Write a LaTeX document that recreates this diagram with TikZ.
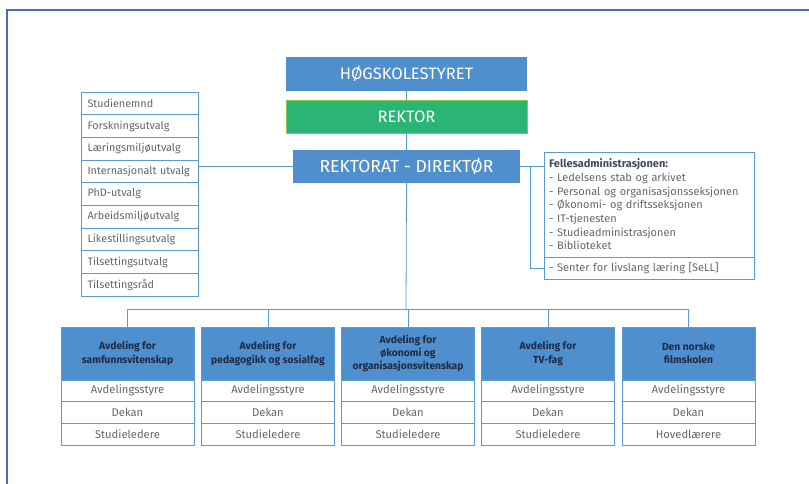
\documentclass[tikz,border=0pt]{standalone}
\usepackage{fontspec}
\setmainfont{Fira Sans}
\definecolor{boxblue}{HTML}{4F8FCD}
\definecolor{lineblue}{HTML}{5B9BD5}
\definecolor{framecol}{HTML}{4A6CC0}
\definecolor{rgreen}{HTML}{2BB574}
\definecolor{rgreenb}{HTML}{8CC84B}
\definecolor{txtgrey}{HTML}{666666}
\definecolor{navy}{HTML}{1E2B44}
\tikzset{
  topbox/.style={fill=boxblue, draw=none, text=white, minimum width=241pt, minimum height=34pt, inner sep=0pt, font=\fontsize{16.5}{19}\selectfont},
  listrow/.style={draw=lineblue, line width=0.8pt, fill=white, minimum width=117pt, minimum height=22.67pt, inner sep=0pt, text width=104pt, align=left, text=txtgrey, font=\fontsize{10.8}{12}\selectfont},
  dhead/.style={fill=boxblue, draw=lineblue, line width=0.8pt, minimum width=133pt, minimum height=53pt, inner sep=0pt, align=center, text=navy, font=\bfseries\fontsize{10.3}{13.2}\selectfont},
  drow/.style={draw=lineblue, line width=0.8pt, fill=white, minimum width=133pt, minimum height=#1, inner sep=0pt, text=txtgrey, font=\fontsize{11.2}{12}\selectfont},
  conn/.style={draw=lineblue, line width=0.8pt},
}
\begin{document}
\begin{tikzpicture}[x=1pt,y=-1pt]
\useasboundingbox (0,0) rectangle (809,484);
\draw[framecol, line width=1.5pt] (7,484) -- (7,10) -- (809,10);

% top chain
\node[topbox] (hs) at (406.5,74) {HØGSKOLESTYRET};
\node[topbox, fill=rgreen, draw=rgreenb, line width=0.8pt, minimum height=33pt] (rk) at (406.5,116.5) {REKTOR};
\node[topbox, minimum width=227pt, minimum height=33pt, font=\fontsize{17.5}{20}\selectfont] (rd) at (406.5,166.5) {REKTORAT - DIREKTØR};
\draw[conn] (hs.south) -- (rk.north);
\draw[conn] (rk.south) -- (rd.north);

% left list
\foreach \t [count=\i] in {Studienemnd,Forskningsutvalg,Læringsmiljøutvalg,Internasjonalt utvalg,PhD-utvalg,Arbeidsmiljøutvalg,Likestillingsutvalg,Tilsettingsutvalg,Tilsettingsråd}{
  \node[listrow] (l\i) at (139.5,{92+22.67*(\i-0.5)}) {\t};
}
\draw[conn] (l4.east |- rd.west) -- (rd.west);

% right box
\node[draw=lineblue, line width=0.8pt, minimum width=210pt, minimum height=105pt, inner sep=0pt, text width=200pt, align=left, text=txtgrey, font=\fontsize{11}{13.7}\selectfont] (fa) at (649,204.5)
{{\bfseries\color{navy!85}Fellesadministrasjonen:}\\
- Ledelsens stab og arkivet\\
- Personal og organisasjonsseksjonen\\
- Økonomi- og driftsseksjonen\\
- IT-tjenesten\\
- Studieadministrasjonen\\
- Biblioteket};
\node[draw=lineblue, line width=0.8pt, minimum width=210pt, minimum height=22pt, inner sep=0pt, text width=200pt, align=left, text=txtgrey, font=\fontsize{11}{12}\selectfont] (sell) at (649,268) {- Senter for livslang læring [SeLL]};
\coordinate (j) at (530,166.5);
\draw[conn] (rd.east) -- (fa.west |- rd.east);
\draw[conn] (j) |- (sell.west);

% departments
\foreach \n/\x/\h/\r in {1/127.5/{Avdeling for\\samfunnsvitenskap}/Studieledere,
                         2/268/{Avdeling for\\pedagogikk og sosialfag}/Studieledere,
                         3/408/{Avdeling for\\økonomi og\\organisasjonsvitenskap}/Studieledere,
                         4/548/{Avdeling for\\TV-fag}/Studieledere,
                         5/688.5/{Den norske\\filmskolen}/Hovedlærere}{
  \node[dhead] (d\n) at (\x,353.5) {\h};
  \node[drow=21pt] (a\n) at (\x,390.5) {Avdelingsstyre};
  \node[drow=22pt] (k\n) at (\x,412) {Dekan};
  \node[drow=22pt] (s\n) at (\x,434) {\r};
}
\coordinate (bus) at (406,309);
\draw[conn] (rd.south) -- (bus);
\draw[conn] (d1.north) -- (d1.north |- bus) -- (d5.north |- bus) -- (d5.north);
\draw[conn] (d2.north) -- (d2.north |- bus);
\draw[conn] (d3.north) -- (d3.north |- bus);
\draw[conn] (d4.north) -- (d4.north |- bus);
\end{tikzpicture}
\end{document}
